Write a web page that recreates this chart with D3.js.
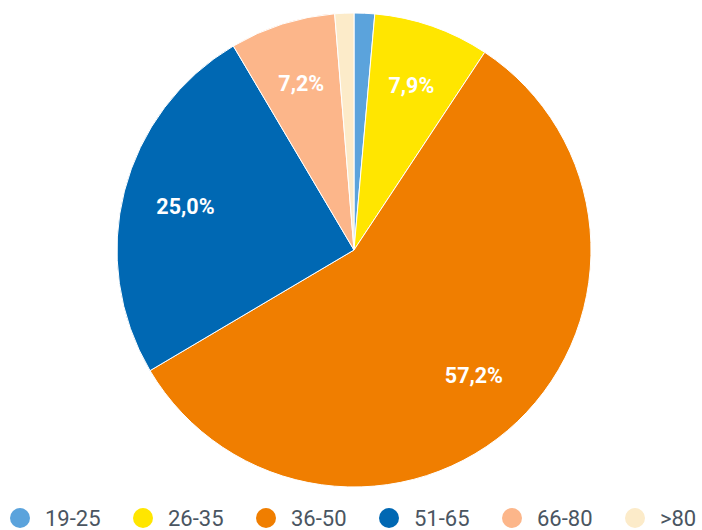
<!DOCTYPE html>
<html>
<head>
<meta charset="utf-8">
<script src="https://cdn.jsdelivr.net/npm/d3@7"></script>
<style>
  body { margin: 0; background: #fff; }
  svg { display: block; }
</style>
</head>
<body>
<div id="chart"></div>
<script>
var categories = ["19-25", "26-35", "36-50", "51-65", "66-80", ">80"];
var values = [1.4, 7.9, 57.2, 25.0, 7.2, 1.3];
var labels = ["", "7,9%", "57,2%", "25,0%", "7,2%", ""];
var colors = ["#5ba3dc", "#ffe600", "#f07e00", "#0068b3", "#fcb68a", "#fcebc9"];

var W = 702, H = 530;
var cx = 354, cy = 250, R = 237;

var svg = d3.select("#chart").append("svg")
            .attr("width", W)
            .attr("height", H);

var data = categories.map(function(c, i){ return {cat: c, value: values[i], label: labels[i], color: colors[i]}; });

var pie = d3.pie().sort(null).value(function(d){ return d.value; });
var arc = d3.arc().innerRadius(0).outerRadius(R);
var labelArc = d3.arc().innerRadius(174).outerRadius(174);

var g = svg.append("g").attr("transform", "translate(" + cx + "," + cy + ")");

var slices = pie(data);

g.selectAll("path")
 .data(slices)
 .enter()
 .append("path")
 .attr("d", arc)
 .attr("fill", function(d){ return d.data.color; })
 .attr("stroke", "#fff")
 .attr("stroke-width", 1);

g.selectAll("text")
 .data(slices.filter(function(d){ return d.data.label; }))
 .enter()
 .append("text")
 .attr("transform", function(d){ return "translate(" + labelArc.centroid(d) + ")"; })
 .attr("text-anchor", "middle")
 .attr("dy", "0.32em")
 .attr("fill", "#fff")
 .attr("font-family", "Roboto, Arial, sans-serif")
 .attr("font-weight", "bold")
 .attr("font-size", 21.5)
 .text(function(d){ return d.data.label; });

// legend along the bottom
var legendX = d3.scalePoint().domain(categories).range([20, 635]);

var legend = svg.append("g").selectAll("g")
                .data(data)
                .enter()
                .append("g")
                .attr("transform", function(d){ return "translate(" + legendX(d.cat) + ",518)"; });

legend.append("circle")
      .attr("r", 10)
      .attr("fill", function(d){ return d.color; });

legend.append("text")
      .attr("x", 25)
      .attr("dy", "0.35em")
      .attr("fill", "#4a5561")
      .attr("font-family", "Roboto, Arial, sans-serif")
      .attr("font-size", 22)
      .text(function(d){ return d.cat; });
</script>
</body>
</html>
